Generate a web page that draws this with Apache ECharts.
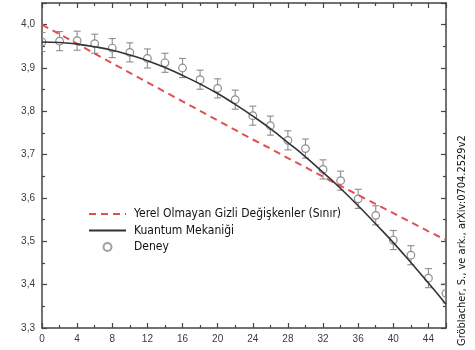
<!DOCTYPE html>
<html>
<head>
<meta charset="utf-8">
<script src="https://cdn.jsdelivr.net/npm/echarts@6/dist/echarts.min.js"></script>
<style>html,body{margin:0;padding:0;background:#fff}#c{width:475px;height:350px}</style>
</head>
<body>
<div id="c"></div>
<script>
// ---- data ----
const angles      = [0, 2, 4, 6, 8, 10, 12, 14, 16, 18, 20, 22, 24, 26, 28, 30, 32, 34, 36, 38, 40, 42, 44, 46];
const yerelSinir  = [4.000, 3.978, 3.956, 3.933, 3.911, 3.889, 3.867, 3.845, 3.823, 3.801, 3.779, 3.757, 3.735, 3.714, 3.692, 3.671, 3.649, 3.628, 3.607, 3.586, 3.565, 3.544, 3.523, 3.503];
const kuantum     = [3.960, 3.959, 3.955, 3.949, 3.941, 3.930, 3.917, 3.901, 3.883, 3.863, 3.841, 3.816, 3.789, 3.760, 3.728, 3.695, 3.659, 3.622, 3.582, 3.540, 3.497, 3.451, 3.404, 3.355];
const deney       = [3.960, 3.962, 3.963, 3.956, 3.946, 3.936, 3.922, 3.912, 3.900, 3.873, 3.853, 3.827, 3.790, 3.767, 3.733, 3.714, 3.666, 3.640, 3.598, 3.560, 3.503, 3.468, 3.415, 3.380];
const deneyHata   = [0.022, 0.022, 0.022, 0.022, 0.022, 0.022, 0.022, 0.022, 0.022, 0.022, 0.022, 0.022, 0.022, 0.022, 0.022, 0.022, 0.022, 0.022, 0.022, 0.022, 0.022, 0.022, 0.022, 0.022];
const seriesNames = ['Yerel Olmayan Gizli Değişkenler (Sınır)', 'Kuantum Mekaniği', 'Deney'];
const kaynak      = 'Gröblacher, S., ve ark., arXiv:0704.2529v2';
const xRange = [0, 46], xStep = 4;
const yRange = [3.3, 4.05], yStep = 0.1;

// ---- chart ----
const chart = echarts.init(document.getElementById('c'), null, {renderer: 'canvas'});
const axisCol = '#444';
const lblFont = "'Liberation Sans', Arial, sans-serif";
const txtFont = "'Liberation Sans Narrow', 'DejaVu Sans Condensed', 'Noto Sans', sans-serif";

function xAx(pos, show) {
  return {
    type: 'value', position: pos, min: xRange[0], max: xRange[1], interval: xStep,
    axisLine: {show: true, onZero: false, lineStyle: {color: axisCol, width: 1.5}},
    axisTick: {show: true, inside: true, length: 5, lineStyle: {color: axisCol, width: 1.2}},
    minorTick: {show: true, splitNumber: 2, length: 3, lineStyle: {color: axisCol, width: 1.2}},
    splitLine: {show: false},
    axisLabel: {show: show, margin: 6, color: '#3a3a3a', fontSize: 10, fontFamily: lblFont, showMaxLabel: false}
  };
}
function yAx(pos, show) {
  return {
    type: 'value', position: pos, min: yRange[0], max: yRange[1], interval: yStep,
    axisLine: {show: true, onZero: false, lineStyle: {color: axisCol, width: 1.5}},
    axisTick: {show: true, inside: true, length: 5, lineStyle: {color: axisCol, width: 1.2}},
    minorTick: {show: true, splitNumber: 2, length: 3, lineStyle: {color: axisCol, width: 1.2}},
    splitLine: {show: false},
    axisLabel: {show: show, margin: 7, color: '#3a3a3a', fontSize: 10, fontFamily: lblFont, showMaxLabel: false,
      formatter: v => v.toFixed(1).replace('.', ',')}
  };
}

const lhv = angles.map((a, i) => [a, yerelSinir[i]]);
const qm = angles.map((a, i) => [a, kuantum[i]]);
const exp = angles.map((a, i) => [a, deney[i], deneyHata[i]]);

chart.setOption({
  animation: false,
  grid: {left: 42, right: 29, top: 3, bottom: 22, containLabel: false},
  xAxis: [xAx('bottom', true), xAx('top', false)],
  yAxis: [yAx('left', true), yAx('right', false)],
  legend: {
    orient: 'vertical', left: 83, top: 202, itemWidth: 37, itemHeight: 8, itemGap: 2.5,
    selectedMode: false,
    textStyle: {fontFamily: txtFont, fontSize: 12, color: '#111', lineHeight: 14, padding: [0, 0, 0, 3]},
    data: [
      {name: seriesNames[0], itemStyle: {opacity: 0}},
      {name: seriesNames[1], itemStyle: {opacity: 0}},
      {name: seriesNames[2], icon: 'emptyCircle', itemStyle: {color: '#a0a0a0', borderColor: '#a0a0a0', borderWidth: 1}}
    ]
  },
  series: [
    {
      name: seriesNames[2], type: 'custom', clip: true, data: exp, z: 2,
      itemStyle: {color: '#a0a0a0'},
      renderItem: function (params, api) {
        const x = api.value(0), y = api.value(1), e = api.value(2);
        const c = api.coord([x, y]);
        const t = api.coord([x, y + e]);
        const b = api.coord([x, y - e]);
        const r = 3.8, cap = 3.5;
        const st = {stroke: '#8c8c8c', lineWidth: 1.1, fill: null};
        return {
          type: 'group',
          children: [
            {type: 'line', shape: {x1: c[0], y1: t[1], x2: c[0], y2: c[1] - r}, style: st},
            {type: 'line', shape: {x1: c[0], y1: c[1] + r, x2: c[0], y2: b[1]}, style: st},
            {type: 'line', shape: {x1: c[0] - cap, y1: t[1], x2: c[0] + cap, y2: t[1]}, style: st},
            {type: 'line', shape: {x1: c[0] - cap, y1: b[1], x2: c[0] + cap, y2: b[1]}, style: st},
            {type: 'circle', shape: {cx: c[0], cy: c[1], r: r}, style: {stroke: '#8c8c8c', lineWidth: 1.2, fill: 'rgba(255,255,255,0)'}}
          ]
        };
      }
    },
    {
      name: seriesNames[0], type: 'line', data: lhv, symbol: 'none', smooth: false, z: 3,
      itemStyle: {color: '#e05050'},
      lineStyle: {color: '#e05050', width: 2, type: [7, 5]}
    },
    {
      name: seriesNames[1], type: 'line', data: qm, symbol: 'none', smooth: true, z: 4,
      itemStyle: {color: '#333'},
      lineStyle: {color: '#333', width: 1.6}
    }
  ],
  graphic: [
    {
      type: 'text', x: 462, y: 346, rotation: Math.PI / 2,
      style: {text: kaynak, font: "11px 'Liberation Sans Narrow', 'DejaVu Sans Condensed', sans-serif",
        fill: '#111', textAlign: 'left', textVerticalAlign: 'middle'}
    }
  ]
});
</script>
</body>
</html>
